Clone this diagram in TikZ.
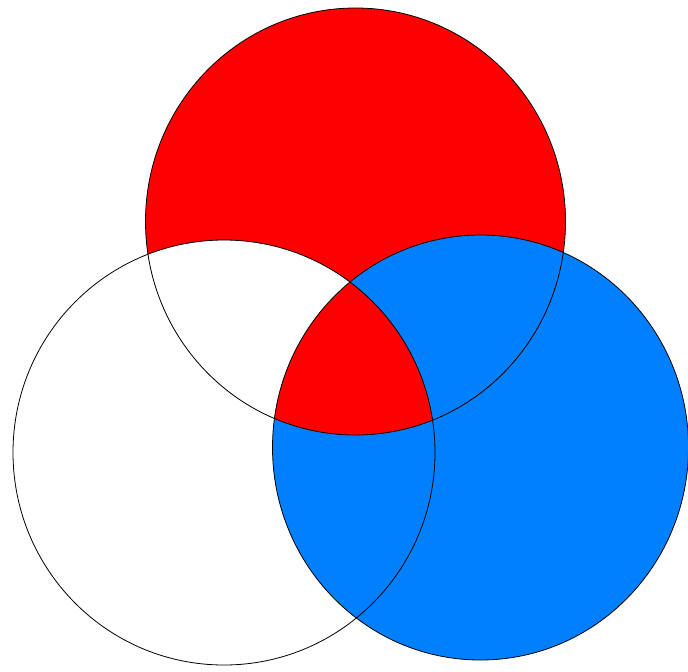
\documentclass[tikz,border=0pt]{standalone}
\usepackage[dvipsnames]{xcolor}
\usepackage{tikz}
\definecolor{vennred}{RGB}{255,0,0}
\definecolor{vennblue}{RGB}{0,128,255}

\begin{document}
\begin{tikzpicture}[x=0.5pt, y=0.5pt]
		\useasboundingbox (0,0) rectangle (688,671);
		\coordinate (top) at (355.5,449.5);
		\coordinate (left) at (224,218.5);
		\coordinate (right) at (480.5,223.5);
		\fill[vennblue] (right) ellipse [x radius=208, y radius=212.5];
		\begin{scope}
			\clip (top) ellipse [x radius=210, y radius=213.5];
			\fill[vennred, even odd rule] (top) ellipse [x radius=210, y radius=213.5]
				(left) ellipse [x radius=211, y radius=212.5]
				(right) ellipse [x radius=208, y radius=212.5];
		\end{scope}
		\draw (top) ellipse [x radius=210, y radius=213.5];
		\draw (left) ellipse [x radius=211, y radius=212.5];
		\draw (right) ellipse [x radius=208, y radius=212.5];
	\end{tikzpicture}
\end{document}
